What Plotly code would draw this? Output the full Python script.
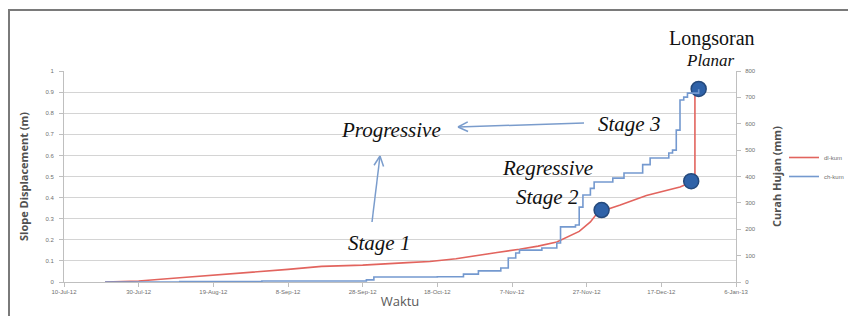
import math
import plotly.graph_objects as go

# ---- data ----
disp_dates = ["2012-07-21", "2012-07-30", "2012-08-10", "2012-08-20", "2012-08-31",
              "2012-09-08", "2012-09-17", "2012-09-28", "2012-10-10", "2012-10-16",
              "2012-10-23", "2012-10-29", "2012-11-03", "2012-11-09", "2012-11-14",
              "2012-11-19", "2012-11-22", "2012-11-25", "2012-11-28", "2012-11-30",
              "2012-12-06", "2012-12-13", "2012-12-22", "2012-12-25", "2012-12-26",
              "2012-12-26"]
disp_vals = [0.0, 0.005, 0.02, 0.033, 0.047,
             0.06, 0.074, 0.08, 0.092, 0.097,
             0.11, 0.128, 0.14, 0.155, 0.17,
             0.19, 0.215, 0.24, 0.285, 0.33,
             0.365, 0.41, 0.45, 0.475, 0.48,
             0.91]

rain_dates = ["2012-07-21", "2012-08-10", "2012-09-01", "2012-09-29", "2012-10-01",
              "2012-10-10", "2012-10-18", "2012-10-25", "2012-10-29", "2012-11-04",
              "2012-11-06", "2012-11-08", "2012-11-09", "2012-11-15", "2012-11-19",
              "2012-11-20", "2012-11-24", "2012-11-25", "2012-11-26", "2012-11-28",
              "2012-11-29", "2012-12-04", "2012-12-07", "2012-12-12", "2012-12-14",
              "2012-12-19", "2012-12-20", "2012-12-21", "2012-12-22", "2012-12-23",
              "2012-12-24", "2012-12-27"]
rain_vals = [0, 2, 4, 8, 19,
             19, 20, 30, 42, 53,
             91, 110, 121, 129, 148,
             209, 216, 284, 330, 355,
             379, 394, 413, 445, 470,
             489, 500, 576, 690, 701,
             716, 731]

stage_dates = ["2012-12-01", "2012-12-25", "2012-12-27"]
stage_vals = [0.341, 0.478, 0.915]

x_tick_dates = ["2012-07-10", "2012-07-30", "2012-08-19", "2012-09-08", "2012-09-28",
                "2012-10-18", "2012-11-07", "2012-11-27", "2012-12-17", "2013-01-06"]
x_tick_text = ["10-Jul-12", "30-Jul-12", "19-Aug-12", "8-Sep-12", "28-Sep-12",
               "18-Oct-12", "7-Nov-12", "27-Nov-12", "17-Dec-12", "6-Jan-13"]
y_ticks = [0, 0.1, 0.2, 0.3, 0.4, 0.5, 0.6, 0.7, 0.8, 0.9, 1]
y_tick_text = ["0", "0.1", "0.2", "0.3", "0.4", "0.5", "0.6", "0.7", "0.8", "0.9", "1"]
y2_ticks = [0, 100, 200, 300, 400, 500, 600, 700, 800]

# ---- layout geometry (pixels) ----
W, H = 848, 316
L, R, T, B = 64, 112, 71, 34
PW, PH = W - L - R, H - T - B


def px(x):  # screenshot pixels -> paper
    return (x - L) / PW


def py(y):
    return (H - B - y) / PH


fig = go.Figure()
fig.add_trace(go.Scatter(x=disp_dates, y=disp_vals, mode="lines", name="dl-kum",
                         line=dict(color="#e2645e", width=1.6), yaxis="y"))
fig.add_trace(go.Scatter(x=rain_dates, y=rain_vals, mode="lines", name="ch-kum",
                         line=dict(color="#7499cf", width=1.6, shape="hv"), yaxis="y2"))
fig.add_trace(go.Scatter(x=stage_dates, y=stage_vals, mode="markers", showlegend=False,
                         marker=dict(size=15, color="#2f62a8",
                                     line=dict(color="#24497c", width=1.5)),
                         yaxis="y"))

tickfont = dict(family="Liberation Sans", size=6, color="#6f6f6f")
axis_common = dict(showline=True, linecolor="#bfbfbf", linewidth=1, ticks="outside",
                   ticklen=4, tickcolor="#bfbfbf", tickfont=tickfont, automargin=False,
                   zeroline=False)

fig.update_layout(
    width=W, height=H,
    margin=dict(l=L, r=R, t=T, b=B, pad=0, autoexpand=False),
    paper_bgcolor="white", plot_bgcolor="white",
    xaxis=dict(type="date", range=["2012-07-10", "2013-01-06"],
               tickvals=x_tick_dates, ticktext=x_tick_text, showgrid=False,
               title=dict(text="Waktu", standoff=2,
                          font=dict(family="Open Sans", size=13, color="#595959")),
               **axis_common),
    yaxis=dict(range=[0, 1], tickvals=y_ticks, ticktext=y_tick_text,
               showgrid=True, gridcolor="#d4d4d4", gridwidth=1,
               ticklabelstandoff=4,
               title=dict(text="<b>Slope Displacement (m)</b>", standoff=14,
                          font=dict(family="Open Sans", size=11, color="#505050")),
               **axis_common),
    yaxis2=dict(range=[0, 800], tickvals=y2_ticks, overlaying="y", side="right",
                showgrid=False, ticklabelstandoff=3,
                title=dict(text="<b>Curah Hujan (mm)</b>", standoff=18,
                           font=dict(family="Open Sans", size=11, color="#505050")),
                **axis_common),
    legend=dict(x=px(784), y=py(143), xanchor="left", yanchor="top",
                font=dict(family="Liberation Sans", size=6, color="#6f6f6f"),
                bgcolor="rgba(0,0,0,0)", itemwidth=30, tracegroupgap=0),
    showlegend=True,
)

# outer frame
fig.add_shape(type="rect", xref="paper", yref="paper",
              x0=px(9), x1=px(880), y0=py(340), y1=py(10),
              line=dict(color="#7a7a7a", width=2), layer="above")

# arrows (open V heads)
arrow_col = "#7a9ccc"


def arrow(x0, y0, x1, y1):
    fig.add_shape(type="line", xref="paper", yref="paper",
                  x0=px(x0), y0=py(y0), x1=px(x1), y1=py(y1),
                  line=dict(color=arrow_col, width=1.5))
    ang = math.atan2(y0 - y1, x0 - x1)
    for d in (0.45, -0.45):
        hx = x1 + 11 * math.cos(ang + d)
        hy = y1 + 11 * math.sin(ang + d)
        fig.add_shape(type="line", xref="paper", yref="paper",
                      x0=px(x1), y0=py(y1), x1=px(hx), y1=py(hy),
                      line=dict(color=arrow_col, width=1.5))


arrow(584, 123, 458, 127)
arrow(372, 222, 380, 156)

serif = "Liberation Serif"
notes = [
    ("Longsoran", 712, 38, False, 20),
    ("Planar", 710, 61, True, 17),
    ("Progressive", 391, 130, True, 21),
    ("Stage 3", 629, 124, True, 21),
    ("Regressive", 547, 168, True, 21),
    ("Stage 2", 547, 197, True, 21),
    ("Stage 1", 379, 243, True, 21),
]
for text, x, y, it, size in notes:
    fig.add_annotation(xref="paper", yref="paper", x=px(x), y=py(y),
                       text=f"<i>{text}</i>" if it else text, showarrow=False,
                       xanchor="center", yanchor="middle",
                       font=dict(family=serif, size=size, color="#111111"))

fig.write_html(
    "out.html",
    config={"displayModeBar": False},
    post_script="document.documentElement.style.margin='0';"
                "document.body.style.margin='0';"
                "document.body.style.overflow='hidden';",
)
